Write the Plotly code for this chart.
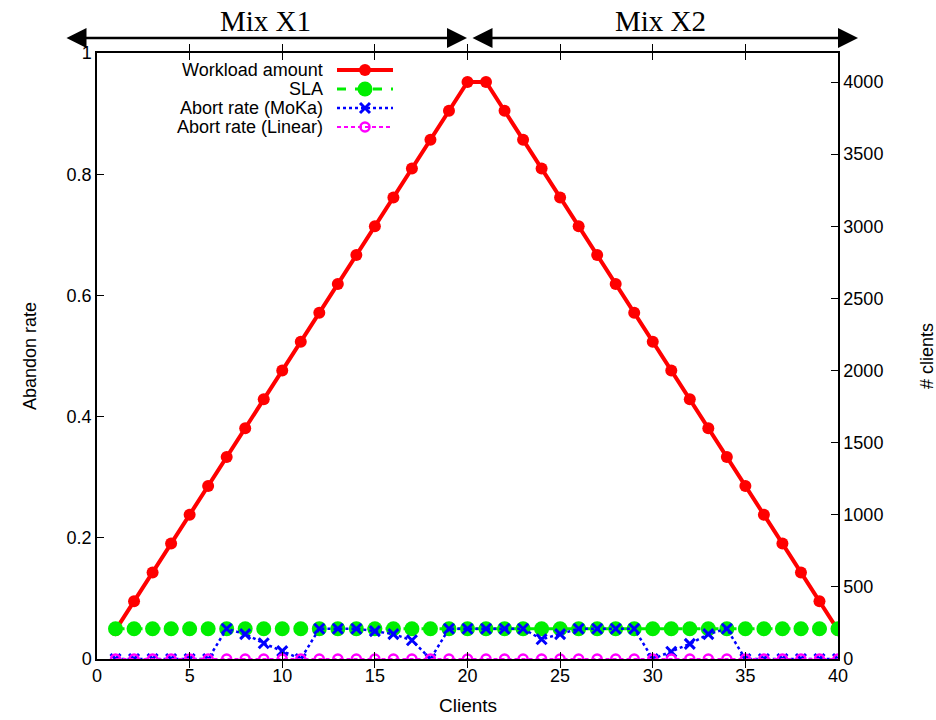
import plotly.graph_objects as go

clients = list(range(1, 41))
workload = [200, 400, 600, 800, 1000, 1200, 1400, 1600, 1800, 2000,
            2200, 2400, 2600, 2800, 3000, 3200, 3400, 3600, 3800, 4000,
            4000, 3800, 3600, 3400, 3200, 3000, 2800, 2600, 2400, 2200,
            2000, 1800, 1600, 1400, 1200, 1000, 800, 600, 400, 200]
sla = [0.05] * 40
abort_moka = [0, 0, 0, 0, 0, 0, 0.05, 0.041, 0.026, 0.013,
              0, 0.05, 0.05, 0.05, 0.046, 0.041, 0.031, 0, 0.05, 0.05,
              0.05, 0.05, 0.05, 0.0325, 0.041, 0.05, 0.05, 0.05, 0.05, 0,
              0.012, 0.025, 0.041, 0.05, 0, 0, 0, 0, 0, 0]
abort_linear = [0] * 40
series_names = ["Workload amount", "SLA", "Abort rate (MoKa)", "Abort rate (Linear)"]
x_ticks = [0, 5, 10, 15, 20, 25, 30, 35, 40]
y_ticks = [0, 0.2, 0.4, 0.6, 0.8, 1]
y_tick_labels = ["0", "0.2", "0.4", "0.6", "0.8", "1"]
y2_ticks = [0, 500, 1000, 1500, 2000, 2500, 3000, 3500, 4000]

RED, GREEN, BLUE, MAG = "#ff0000", "#00ee00", "#0000ff", "#ff00ff"
FONT = "Liberation Sans, Arial, sans-serif"

styles = [
    dict(line=dict(color=RED, width=4),
         marker=dict(symbol="circle", size=12, color=RED)),
    dict(line=dict(color=GREEN, width=3, dash="dash"),
         marker=dict(symbol="circle", size=15, color=GREEN)),
    dict(line=dict(color=BLUE, width=2.5, dash="3px,3px"),
         marker=dict(symbol="x-thin-open", size=10, color=BLUE, line=dict(width=3, color=BLUE))),
    dict(line=dict(color=MAG, width=2, dash="4px,3px"),
         marker=dict(symbol="circle-open", size=9, color=MAG, line=dict(width=2.5, color=MAG))),
]

fig = go.Figure()
# Workload on the base (right-side) axis so it is drawn beneath the rate series
fig.add_trace(go.Scatter(x=clients, y=workload, mode="lines+markers", yaxis="y",
                         name=series_names[0], showlegend=False, **styles[0]))
fig.add_trace(go.Scatter(x=clients, y=sla, mode="lines+markers", yaxis="y2",
                         name=series_names[1], showlegend=False, **styles[1]))
fig.add_trace(go.Scatter(x=clients, y=abort_moka, mode="lines+markers", yaxis="y2",
                         name=series_names[2], showlegend=False, **styles[2]))
fig.add_trace(go.Scatter(x=clients, y=abort_linear, mode="lines+markers", yaxis="y2",
                         name=series_names[3], showlegend=False, **styles[3]))

# Custom legend (text to the left of the sample, gnuplot style) on a pixel-mapped overlay axis
L, R, T, B = 97, 838, 53, 659
W, H = R - L, B - T
legend_rows = [70, 89, 108, 127]
for name, st, py in zip(series_names, styles, legend_rows):
    fig.add_trace(go.Scatter(x=[337, 393], y=[py, py], mode="lines", xaxis="x3", yaxis="y3",
                             line=st["line"], showlegend=False, hoverinfo="skip"))
    fig.add_trace(go.Scatter(x=[365], y=[py], mode="markers", xaxis="x3", yaxis="y3",
                             marker=st["marker"], showlegend=False, hoverinfo="skip"))
    fig.add_annotation(x=(325 - L) / W, y=(B - py) / H, xref="paper", yref="paper",
                       text=name, showarrow=False, xanchor="right", yanchor="middle",
                       font=dict(family=FONT, size=18, color="black"))

axis_common = dict(showline=True, linecolor="black", linewidth=1.5, ticks="inside",
                   ticklen=7, tickcolor="black", showgrid=False, zeroline=False,
                   tickfont=dict(family=FONT, size=18, color="black"))

fig.update_layout(
    width=936, height=720,
    margin=dict(l=L, r=936 - R, t=T, b=720 - B),
    paper_bgcolor="white", plot_bgcolor="white",
    xaxis=dict(range=[0, 40], tickvals=x_ticks, mirror="allticks", **axis_common),
    yaxis=dict(range=[0, 4000 * H / 577], tickvals=y2_ticks, side="right", **axis_common),
    yaxis2=dict(range=[0, 1], tickvals=y_ticks, ticktext=y_tick_labels, overlaying="y",
                side="left", anchor="x", **axis_common),
    xaxis3=dict(range=[L, R], domain=[0, 1], overlaying="x", visible=False, anchor="y3"),
    yaxis3=dict(range=[B, T], domain=[0, 1], overlaying="y", visible=False, anchor="x3"),
    showlegend=False,
)

# Axis titles
fig.add_annotation(x=(30 - L) / W, y=0.5, xref="paper", yref="paper", text="Abandon rate",
                   textangle=-90, showarrow=False, xanchor="center", yanchor="middle",
                   font=dict(family=FONT, size=18, color="black"))
fig.add_annotation(x=(927 - L) / W, y=0.5, xref="paper", yref="paper", text="# clients",
                   textangle=-90, showarrow=False, xanchor="center", yanchor="middle",
                   font=dict(family=FONT, size=18, color="black"))
fig.add_annotation(x=0.5, y=(B - 705) / H, xref="paper", yref="paper", text="Clients",
                   showarrow=False, xanchor="center", yanchor="middle",
                   font=dict(family=FONT, size=19, color="black"))

# Mix labels and arrows
SERIF = "Liberation Serif, Times New Roman, serif"
for label, cx in [("Mix X1", 265), ("Mix X2", 660)]:
    fig.add_annotation(x=(cx - L) / W, y=(B - 21) / H, xref="paper", yref="paper", text=label,
                       showarrow=False, xanchor="center", yanchor="middle",
                       font=dict(family=SERIF, size=29, color="black"))
arrow_y = (B - 38) / H
for x_end, x_start in [(467, 65), (858, 471)]:
    fig.add_annotation(x=(x_end - L) / W, y=arrow_y, xref="paper", yref="paper",
                       ax=x_start - x_end, ay=0, axref="pixel", ayref="pixel",
                       text="", showarrow=True, arrowhead=2, arrowside="end+start",
                       arrowsize=1.6, arrowwidth=2.5, arrowcolor="black",
                       standoff=0, startstandoff=0)

fig.write_html("out.html")
